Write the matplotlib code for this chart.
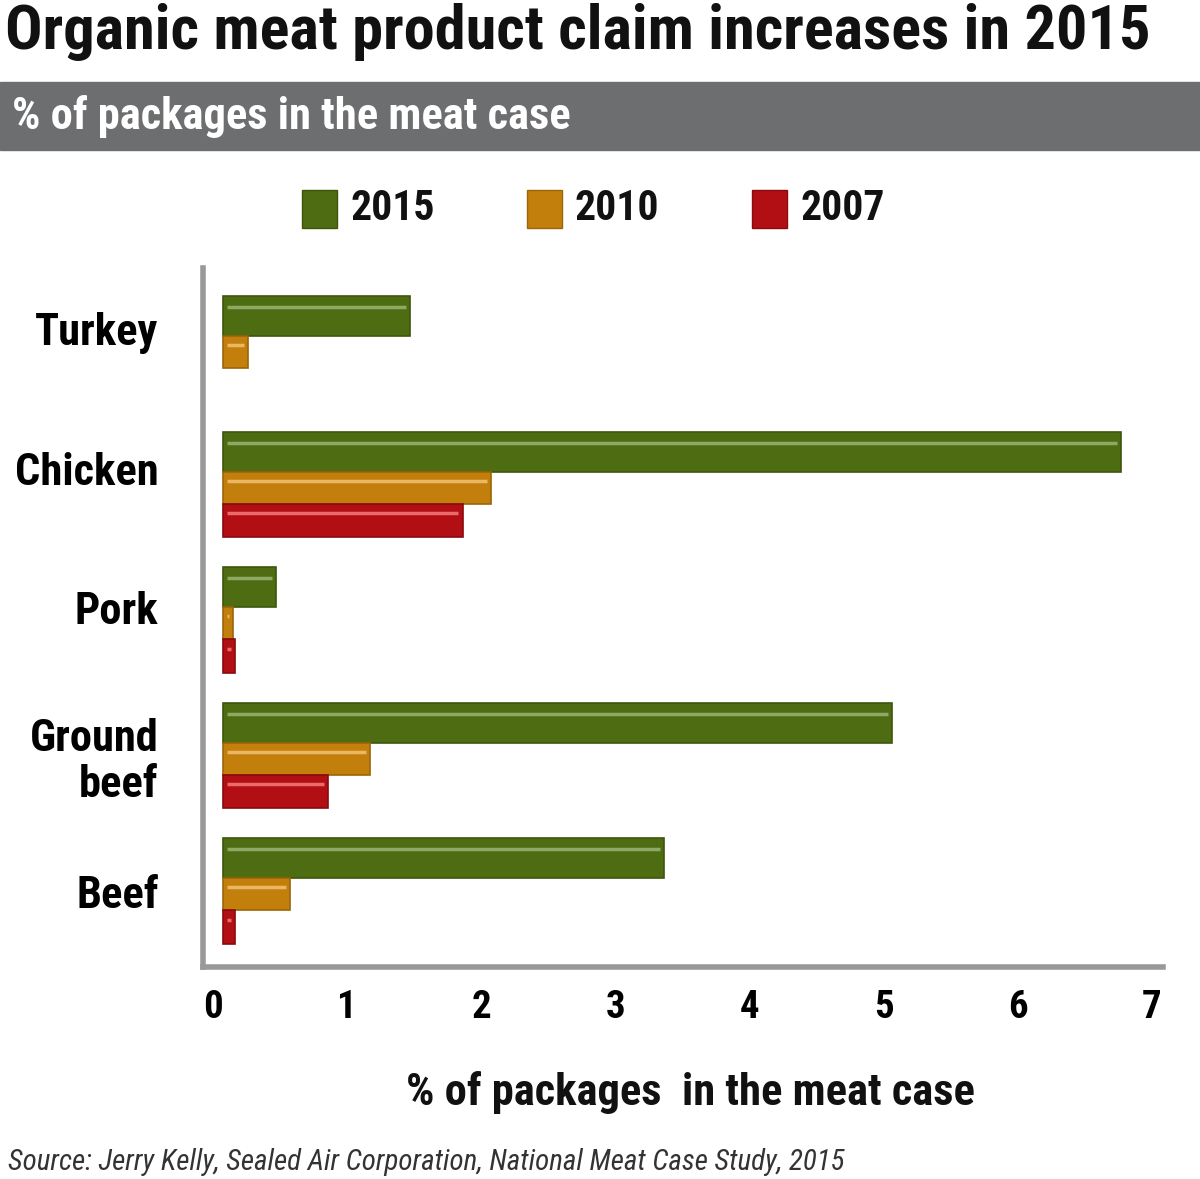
import numpy as np
import matplotlib
matplotlib.use("Agg")
import matplotlib.pyplot as plt
from matplotlib.patches import Rectangle
from matplotlib import font_manager

# data (% of packages in the meat case)
categories = ["Turkey", "Chicken", "Pork", "Ground\nbeef", "Beef"]
years = ["2015", "2010", "2007"]
v2015 = [1.47, 6.77, 0.47, 5.06, 3.36]
v2010 = [0.26, 2.07, 0.15, 1.17, 0.57]
v2007 = [0.0, 1.86, 0.16, 0.86, 0.16]
xticks = [0, 1, 2, 3, 4, 5, 6, 7]

colors = ["#4e6c12", "#c27f0c", "#b20f14"]
edges = ["#3d560c", "#9c6508", "#8a0a0e"]
shines = ["#8ea866", "#eab765", "#ec6a6a"]
heights = [0.295, 0.236, 0.25]
tops = [-0.39, -0.095, 0.141]
label_shift = [-0.15, -0.12, -0.09, 0.0, 0.0]  # category labels sit a bit high

# pick a narrow font if one is around
names = set(f.name for f in font_manager.fontManager.ttflist)
family = 'DejaVu Sans'
for n in ['Liberation Sans Narrow', 'Roboto Condensed', 'Open Sans Condensed', 'Noto Sans Condensed']:
    if n in names:
        family = n
        break
stretch = 'normal'
if family == 'DejaVu Sans':
    if any(f.name == 'DejaVu Sans' and 'condensed' in str(f.stretch) for f in font_manager.fontManager.ttflist):
        stretch = 'condensed'
plt.rcParams['font.family'] = [family, 'DejaVu Sans']
plt.rcParams['font.stretch'] = stretch
W = 'bold'

fig = plt.figure(figsize=(12, 11.79), dpi=100)
ax = fig.add_axes([0.1692, 0.1798, 0.8, 0.5929])

start = 0.075  # bars begin slightly right of zero
ypos = np.arange(len(categories))
for k, vals in enumerate([v2015, v2010, v2007]):
    vals = np.array(vals)
    m = vals > 0
    y0 = ypos[m] + tops[k]
    ax.barh(y0, vals[m] - start, height=heights[k], left=start, align='edge',
            color=colors[k], edgecolor=edges[k], linewidth=1.2)
    ax.hlines(y0 + heights[k] * 0.28, start + 0.03, vals[m] - 0.03,
              color=shines[k], linewidth=2.5)

ax.set_xlim(-0.075, 7.084)
ax.set_ylim(4.561, -0.598)
ax.set_xticks(xticks)
ax.set_xticklabels([str(t) for t in xticks], fontsize=28, fontweight=W)
ax.set_yticks(ypos + np.array(label_shift))
ax.set_yticklabels(categories, fontsize=30, linespacing=1.12, fontweight=W)
ax.tick_params(length=0)
ax.tick_params(axis='x', pad=16)
ax.tick_params(axis='y', pad=32)
for s in ["top", "right"]:
    ax.spines[s].set_visible(False)
for s in ["left", "bottom"]:
    ax.spines[s].set_color("#999999")
    ax.spines[s].set_linewidth(4)
xl = fig.text((405 + 975) / 2 / 1200, 1 - 1092 / 1179, "% of packages  in the meat case",
              fontsize=30, ha='center', va='center', color="#111111", fontweight=W)

# title and gray subtitle band
title = fig.text(0.004, 1 - 32 / 1179, "Organic meat product claim increases in 2015",
                 fontsize=45, va='center', ha='left', color="#111111", fontweight=W)
fig.patches.append(Rectangle((0, 1 - 150 / 1179), 1, 68 / 1179,
                             transform=fig.transFigure, color="#6d6e70", zorder=0))
sub = fig.text(0.01, 1 - 117 / 1179, "% of packages in the meat case", fontsize=30,
               color="white", va='center', ha='left', fontweight=W)

# legend
lx = [302, 527, 752]
legtexts = []
for k in range(3):
    fig.patches.append(Rectangle((lx[k] / 1200, 1 - 228 / 1179), 35 / 1200, 38 / 1179,
                                 transform=fig.transFigure, facecolor=colors[k],
                                 edgecolor=edges[k], linewidth=1))
    legtexts.append(fig.text((lx[k] + 48) / 1200, 1 - 209 / 1179, years[k], fontsize=30,
                             va='center', ha='left', color="#111111", fontweight=W))

src = fig.text(0.007, 1 - 1162 / 1179,
               "Source: Jerry Kelly, Sealed Air Corporation, National Meat Case Study, 2015",
               fontsize=18, style='italic', color="#333333", va='center', ha='left')

# shrink/grow texts so their widths match the reference
fig.canvas.draw()
r = fig.canvas.get_renderer()

def fit(t, target, cap):
    w = t.get_window_extent(r).width
    t.set_fontsize(min(cap, t.get_fontsize() * target / w))

fit(title, 1145, 48)
fit(sub, 560, 32)
fit(xl, 570, 32)
fit(src, 837, 22)
for t in legtexts:
    fit(t, 86, 30)
ylabs = ax.get_yticklabels()
w = ylabs[1].get_window_extent(r).width
ysize = min(32, ylabs[1].get_fontsize() * 145 / w)
for t in ylabs:
    t.set_fontsize(ysize)

fig.savefig("out.png", dpi=100, facecolor="white")
